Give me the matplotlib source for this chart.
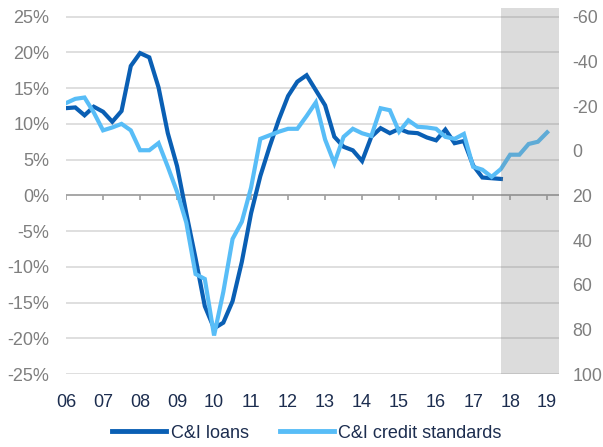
import numpy as np
import matplotlib
matplotlib.use("Agg")
import matplotlib.pyplot as plt
from matplotlib.lines import Line2D

plt.rcParams['font.family'] = ['Liberation Sans', 'DejaVu Sans']
plt.rcParams['axes.unicode_minus'] = False

# C&I loan growth, % y/y, quarterly from 2006Q1
loans = [12.2, 12.3, 11.2, 12.4,
         11.7, 10.3, 11.8, 18.1,
         19.9, 19.3, 15.1, 8.7,
         4.1, -2.5, -8.8, -15.5,
         -18.6, -17.8, -14.8, -9.3,
         -2.5, 2.7, 6.8, 10.6,
         13.9, 15.9, 16.8, 14.7,
         12.6, 8.2, 6.8, 6.3,
         4.8, 8.2, 9.4, 8.7,
         9.3, 8.8, 8.7, 8.1,
         7.7, 9.2, 7.3, 7.6,
         4.2, 2.5, 2.4, 2.3]

# C&I credit standards, net % tightening (inverted right axis), quarterly from 2006Q1
standards = [-21.3, -23.2, -23.8, -17.1,
             -9.1, -10.4, -12.0, -9.1,
             -0.2, -0.2, -3.4, 7.2,
             18.4, 32.2, 55.2, 57.4,
             82.7, 63.2, 39.5, 31.8,
             16.5, -5.3, -6.9, -8.5,
             -9.8, -9.8, -15.5, -21.6,
             -5.0, 5.6, -6.2, -9.8,
             -7.8, -6.6, -19.0, -18.1,
             -8.5, -13.6, -10.7, -10.4,
             -9.8, -6.2, -5.3, -7.5,
             7.2, 8.5, 11.7, 8.2,
             1.8, 1.8, -3.0, -4.0,
             -8.2]

year_labels = ['06', '07', '08', '09', '10', '11', '12', '13',
               '14', '15', '16', '17', '18', '19']
left_ticks = [25, 20, 15, 10, 5, 0, -5, -10, -15, -20, -25]
right_ticks = [-60, -40, -20, 0, 20, 40, 60, 80, 100]

dark = '#0a5fb4'
light = '#58bdf7'
grey_txt = '#7f7f7f'
navy = '#1c2d4f'

x_loans = 6 + np.arange(len(loans)) / 4
x_std = 6 + np.arange(len(standards)) / 4
years = np.arange(6, 6 + len(year_labels))

fig = plt.figure(figsize=(6.03, 4.47), dpi=100)
ax = fig.add_axes([0.1095, 0.163, 0.8175, 0.819])

x_max = 19.32
y_top = 26.2
ax.set_xlim(6, x_max)
ax.set_ylim(-25, y_top)

for v in left_ticks:
    if v != 0:
        ax.axhline(v, color='#d9d9d9', lw=1.2, zorder=1)
ax.axhline(0, color='#a0a0a0', lw=1.3, zorder=2)
ax.vlines(years, -0.6, 0, color='#a0a0a0', lw=1.2, zorder=2)

ax.plot(x_loans, loans, color=dark, lw=3, solid_joinstyle='miter', zorder=3)

for s in ax.spines.values():
    s.set_visible(False)
ax.set_yticks(left_ticks)
ax.set_yticklabels([f'{v}%' for v in left_ticks])
ax.set_xticks(years)
ax.set_xticklabels(year_labels)
ax.tick_params(axis='y', length=0, pad=12, labelsize=13, labelcolor=grey_txt)
ax.tick_params(axis='x', length=0, pad=14, labelsize=13, labelcolor=navy)

# credit standards on inverted right axis, aligned so 0% <-> 20
ax2 = ax.twinx()
r_top = 20 - 3.2 * y_top
ax2.set_ylim(100, r_top)
ax2.set_xlim(6, x_max)
ax2.plot(x_std, standards, color=light, lw=3, solid_joinstyle='miter', zorder=3)
ax2.axvspan(17.75, x_max, ymin=0, ymax=1, color='#767676', alpha=0.25,
            lw=0, zorder=4)
for s in ax2.spines.values():
    s.set_visible(False)
ax2.set_yticks(right_ticks)
ax2.tick_params(axis='y', length=0, pad=9.5, labelsize=12.8, labelcolor=grey_txt)

handles = [Line2D([], [], color=dark, lw=3.5),
           Line2D([], [], color=light, lw=3.5)]
leg = fig.legend(handles, ['C&I loans', 'C&I credit standards'],
                 loc='center', bbox_to_anchor=(0.509, 0.031), ncol=2,
                 frameon=False, fontsize=13, handlelength=3.0,
                 handletextpad=0.25, columnspacing=1.7)
for t in leg.get_texts():
    t.set_color(navy)

fig.savefig('out.png', dpi=100)
